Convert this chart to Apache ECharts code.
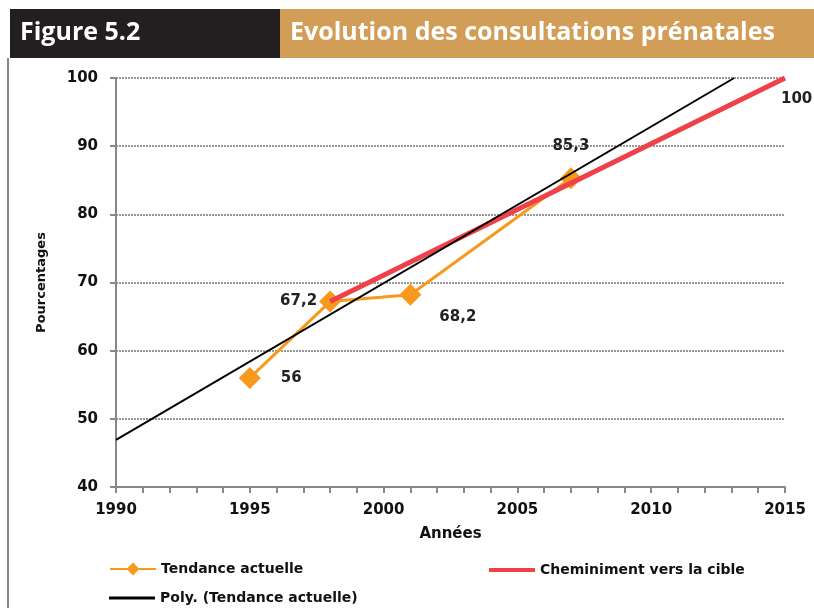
<!DOCTYPE html>
<html>
<head>
<meta charset="utf-8">
<script src="https://cdn.jsdelivr.net/npm/echarts@6/dist/echarts.min.js"></script>
<style>
html, body { margin: 0; padding: 0; background: #fff; }
#chart { width: 814px; height: 608px; }
</style>
</head>
<body>
<div id="chart"></div>
<script>
// donnees
var years = [1995, 1998, 2001, 2007];
var tendance = [56, 67.2, 68.2, 85.3];
var cibleYears = [1998, 2015];
var cible = [67.2, 100];
var polyYears = [1990, 2013.1];
var poly = [46.9, 100];

var FONT = '"DejaVu Sans", Arial, sans-serif';
var labelFont = { fontFamily: FONT, fontWeight: 'bold', fontSize: 15, color: '#222' };
function fmt(v) { return String(v).replace('.', ','); }

// placement des etiquettes (index -> label)
var tendLabels = [
	{ position: 'right', distance: 20 },
	{ position: 'left', distance: 2 },
	{ position: [40, 26] },
	{ position: 'top', distance: 14 }
];

var legendText = { fontFamily: FONT, fontWeight: 'bold', fontSize: 14, color: '#111' };

var chart = echarts.init(document.getElementById('chart'));
var option = {
	animation: false,
	graphic: [
		{ type: 'rect', shape: { x: 10, y: 9, width: 270, height: 49 }, style: { fill: '#231f20' } },
		{ type: 'rect', shape: { x: 280, y: 9, width: 534, height: 49 }, style: { fill: '#d29e57' } },
		{ type: 'text', left: 20, top: 20, style: { text: 'Figure 5.2', fill: '#fff', font: 'bold 25px "Open Sans", sans-serif' } },
		{ type: 'text', left: 290, top: 20, style: { text: 'Evolution des consultations prénatales', fill: '#fff', font: 'bold 25px "Open Sans", sans-serif' } },
		{ type: 'line', shape: { x1: 8, y1: 58, x2: 8, y2: 608 }, style: { stroke: '#888', lineWidth: 2 } }
	],
	grid: { left: 116, right: 29, top: 78, bottom: 121 },
	legend: [
		{ left: 104, top: 557, itemWidth: 46, itemHeight: 16, itemGap: 2, textStyle: legendText,
		  data: ['Tendance actuelle'] },
		{ left: 484, top: 558, itemWidth: 46, itemHeight: 4, textStyle: legendText,
		  data: [{ name: 'Cheminiment vers la cible', icon: 'rect' }] },
		{ left: 104, top: 586, itemWidth: 46, itemHeight: 3, textStyle: legendText,
		  data: [{ name: 'Poly. (Tendance actuelle)', icon: 'rect' }] }
	],
	xAxis: {
		type: 'value', min: 1990, max: 2015, interval: 5,
		name: 'Années', nameLocation: 'middle', nameGap: 40,
		nameTextStyle: { fontFamily: FONT, fontWeight: 'bold', fontSize: 15, color: '#111' },
		axisLine: { lineStyle: { color: '#888', width: 2 } },
		axisTick: { show: true, length: 6, lineStyle: { color: '#888', width: 2 } },
		minorTick: { show: true, splitNumber: 5, length: 6, lineStyle: { color: '#888', width: 2 } },
		axisLabel: Object.assign({ margin: 16, formatter: function (v) { return String(v); } }, labelFont, { color: '#111' }),
		splitLine: { show: false }
	},
	yAxis: {
		type: 'value', min: 40, max: 100, interval: 10,
		name: 'Pourcentages', nameLocation: 'middle', nameGap: 68, nameRotate: 90,
		nameTextStyle: { fontFamily: FONT, fontWeight: 'bold', fontSize: 13, color: '#111' },
		axisLine: { show: true, lineStyle: { color: '#888', width: 2 } },
		axisTick: { show: true, length: 6, lineStyle: { color: '#888', width: 2 } },
		axisLabel: Object.assign({ margin: 18 }, labelFont, { color: '#111' }),
		splitLine: { lineStyle: { color: '#999', width: 2, type: [2, 1] } }
	},
	series: [
		{
			name: 'Poly. (Tendance actuelle)', type: 'line', symbol: 'none', z: 4,
			lineStyle: { color: '#000', width: 2 }, itemStyle: { color: '#000' },
			data: polyYears.map(function (y, i) { return [y, poly[i]]; })
		},
		{
			name: 'Tendance actuelle', type: 'line', symbol: 'diamond', symbolSize: 22, z: 2,
			lineStyle: { color: '#f7991c', width: 3 }, itemStyle: { color: '#f7991c' },
			data: years.map(function (y, i) {
				return { value: [y, tendance[i]], label: Object.assign({ show: true, formatter: fmt(tendance[i]) }, labelFont, tendLabels[i]) };
			})
		},
		{
			name: 'Cheminiment vers la cible', type: 'line', symbol: 'circle', symbolSize: 0, showSymbol: true, z: 3,
			lineStyle: { color: '#ef4148', width: 5 }, itemStyle: { color: '#ef4148' },
			data: cibleYears.map(function (y, i) {
				var d = { value: [y, cible[i]] };
				if (i === cible.length - 1) d.label = Object.assign({ show: true, formatter: fmt(cible[i]), position: [-4, 14] }, labelFont);
				return d;
			})
		}
	]
};
chart.setOption(option);
</script>
</body>
</html>
